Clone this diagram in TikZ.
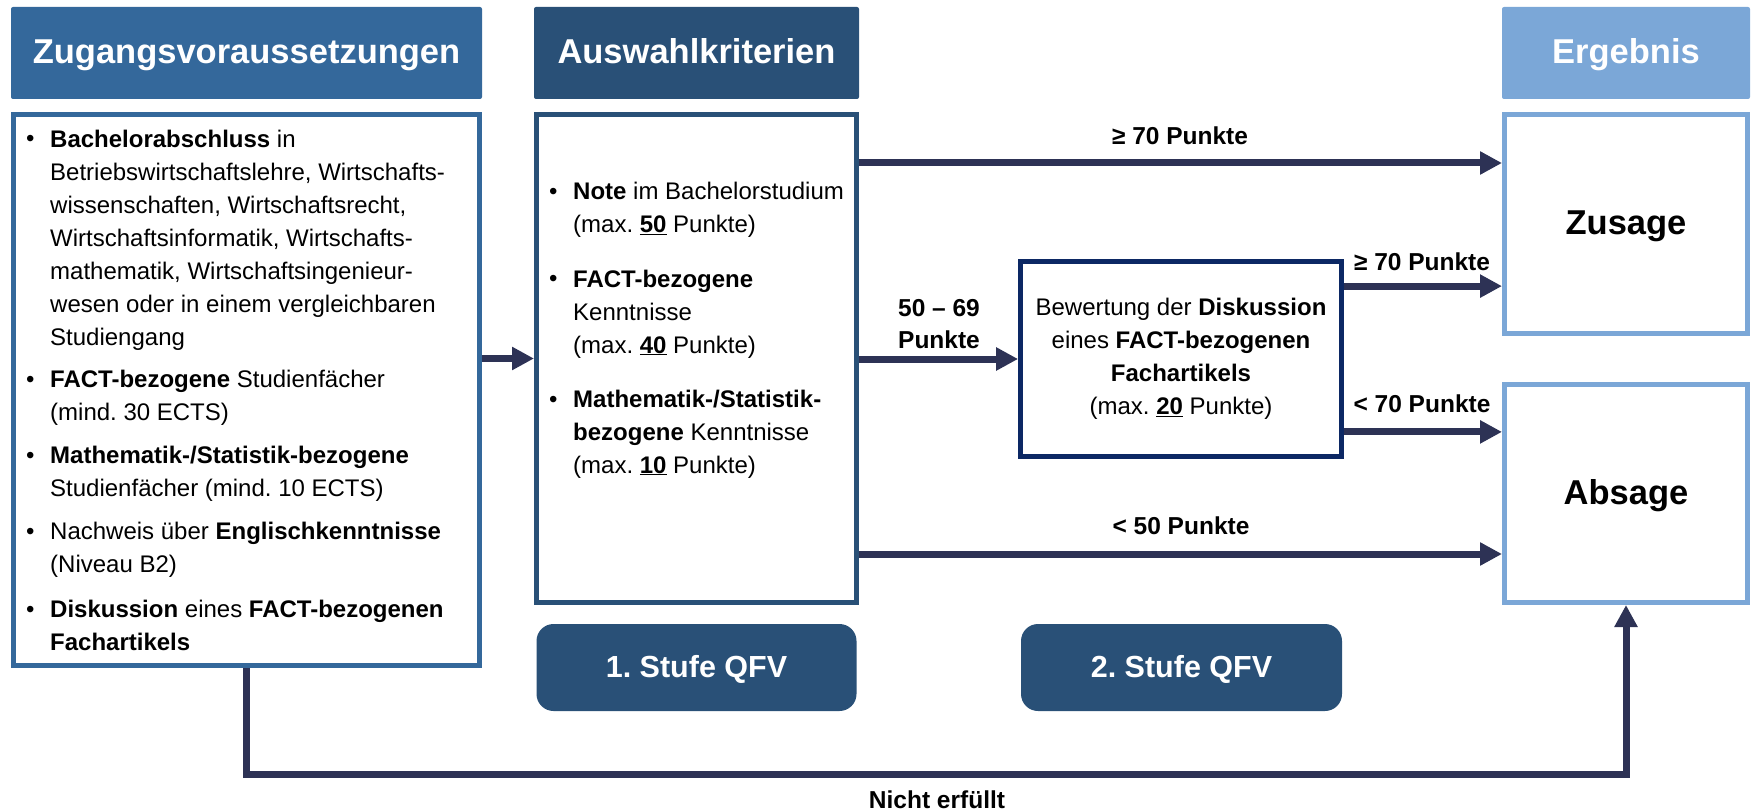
\documentclass[tikz,border=0pt]{standalone}
\usepackage{fontspec}
\setmainfont{Liberation Sans}
\usetikzlibrary{arrows.meta,calc}
\definecolor{hdrA}{RGB}{52,104,155}
\definecolor{hdrB}{RGB}{41,80,119}
\definecolor{hdrC}{RGB}{123,167,215}
\definecolor{navyb}{RGB}{12,40,100}
\definecolor{arrowc}{RGB}{45,50,85}
\frenchspacing
\begin{document}
\begin{tikzpicture}[x=1pt,y=-1pt,
  hdr/.style={inner sep=0pt, minimum height=92pt, text=white, rounded corners=2pt,
    font=\fontsize{34.5}{40}\selectfont\bfseries, text height=27pt, text depth=6pt},
  panel/.style={draw, line width=5pt, fill=white, inner sep=0pt},
  res/.style={panel, draw=hdrC, minimum width=243pt, minimum height=219pt,
    font=\fontsize{34.5}{40}\selectfont\bfseries, text height=27pt, text depth=6pt},
  stage/.style={fill=hdrB, text=white, rounded corners=17pt, inner sep=0pt,
    minimum width=320pt, minimum height=87pt,
    font=\fontsize{30.5}{36}\selectfont\bfseries, text height=22pt, text depth=3pt},
  body/.style={anchor=base west, inner sep=0pt, align=left,
    font=\fontsize{24}{33}\selectfont},
  bul/.style={anchor=base west, inner sep=0pt, font=\fontsize{24}{33}\selectfont},
  lbl/.style={anchor=base, inner sep=0pt, align=center,
    font=\fontsize{24.5}{31.5}\selectfont\bfseries},
  arr/.style={draw=arrowc, line width=7pt, line join=miter,
    -{Triangle[length=22pt,width=22pt]}}
]
\useasboundingbox (0,0) rectangle (1752,810);

% headers
\node[hdr, fill=hdrA, minimum width=471pt] (h1) at (246.5,53) {Zugangsvoraussetzungen};
\node[hdr, fill=hdrB, minimum width=325pt] (h2) at (696.5,53) {Auswahlkriterien};
\node[hdr, fill=hdrC, minimum width=248pt] (h3) at (1626,53) {Ergebnis};

% panels
\node[panel, draw=hdrA, minimum width=466pt, minimum height=551pt] (lb) at (246.5,390) {};
\node[panel, draw=hdrB, minimum width=320pt, minimum height=488pt] (mb) at (696.5,358.5) {};
\node[res] (zu) at (1626,224) {Zusage};
\node[res, minimum height=218pt] (ab) at (1626,493.5) {Absage};
\node[panel, draw=navyb, line width=4.8pt, minimum width=321pt, minimum height=195pt,
  align=center, font=\fontsize{24}{33}\selectfont] (bw) at (1181,359)
  {Bewertung der \textbf{Diskussion}\\eines \textbf{FACT-bezogenen}\\\textbf{Fachartikels}\\(max. \underline{\textbf{20}} Punkte)};

% stages
\node[stage] (s1) at (696.5,667.5) {1. Stufe QFV};
\node[stage, minimum width=321pt] (s2) at (1181.5,667.5) {2. Stufe QFV};

% left list (base = baseline of last line)
\node[bul] (lb1) at (26,147) {•};
\node[body] (lt1) at (50,345) {\textbf{Bachelorabschluss} in\\Betriebswirtschaftslehre, Wirtschafts-\\wissenschaften, Wirtschaftsrecht,\\Wirtschaftsinformatik, Wirtschafts-\\mathematik, Wirtschaftsingenieur-\\wesen oder in einem vergleichbaren\\Studiengang};
\node[bul] (lb2) at (26,387) {•};
\node[body] (lt2) at (50,420) {\textbf{FACT-bezogene} Studienfächer\\(mind. 30 ECTS)};
\node[bul] (lb3) at (26,463) {•};
\node[body] (lt3) at (50,496) {\textbf{Mathematik-/Statistik-bezogene}\\Studienfächer (mind. 10 ECTS)};
\node[bul] (lb4) at (26,539) {•};
\node[body] (lt4) at (50,572) {Nachweis über \textbf{Englischkenntnisse}\\(Niveau B2)};
\node[bul] (lb5) at (26,617) {•};
\node[body] (lt5) at (50,650) {\textbf{Diskussion} eines \textbf{FACT-bezogenen}\\\textbf{Fachartikels}};

% middle list
\node[bul] (mb1) at (549,200) {•};
\node[body] (mt1) at (573,233) {\textbf{Note} im Bachelorstudium\\(max. \underline{\textbf{50}} Punkte)};
\node[bul] (mb2) at (549,287) {•};
\node[body] (mt2) at (573,353) {\textbf{FACT-bezogene}\\Kenntnisse\\(max. \underline{\textbf{40}} Punkte)};
\node[bul] (mb3) at (549,407) {•};
\node[body] (mt3) at (573,473) {\textbf{Mathematik-/Statistik-}\\\textbf{bezogene} Kenntnisse\\(max. \underline{\textbf{10}} Punkte)};

% connectors
\draw[arr] (lb.east |- mb.west) -- (mb.west);
\draw[arr] ([yshift=-51pt]mb.north east) -- ([yshift=-51pt]mb.north east -| zu.west);
\draw[arr] (mb.east |- bw.west) -- (bw.west);
\draw[arr] ([yshift=-27pt]bw.north east) -- ([yshift=-27pt]bw.north east -| zu.west);
\draw[arr] ([yshift=27pt]bw.south east) -- ([yshift=27pt]bw.south east -| ab.west);
\draw[arr] ([yshift=51pt]mb.south east) -- ([yshift=51pt]mb.south east -| ab.west);
\coordinate (loop) at (937,774);
\draw[arr] (lb.south) |- (loop) -| (ab.south);

% labels
\node[lbl] (l1) at (1180,145) {≥ 70 Punkte};
\node[lbl] (l2) at (939,348) {50 – 69\\Punkte};
\node[lbl] (l3) at (1422,270) {≥ 70 Punkte};
\node[lbl] (l4) at (1422,412) {< 70 Punkte};
\node[lbl] (l5) at (1181,534) {< 50 Punkte};
\node[lbl] (l6) at (937,808) {Nicht erfüllt};
\end{tikzpicture}
\end{document}
